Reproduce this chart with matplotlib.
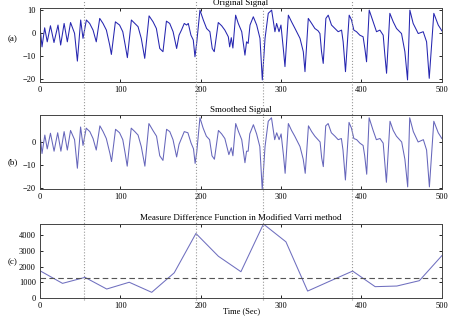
import matplotlib.pyplot as plt
import matplotlib.transforms as mtransforms
from matplotlib.lines import Line2D

plt.rcParams['font.family'] = ['Liberation Serif', 'DejaVu Serif']

# segnale originale
t_orig = [0, 2.5, 5.8, 9, 13, 17.4, 22.4, 25.7, 30, 34, 38, 43, 46.5, 50.6, 53.5, 57.7, 61.8, 66, 70,
          74.3, 78.4, 82.6, 86.7, 88.8, 93.8, 99, 103, 106, 108.7, 113.7, 118, 122, 126, 130.3, 135.7,
          140.7, 144.8, 149, 153, 157.3, 161.4, 165.6, 170, 173, 176, 179.5, 182.4, 184.5, 187.8, 190.7,
          192.8, 194.9, 199, 203.2, 207.3, 211.4, 214.3, 216.8, 221.8, 226, 230, 234.3, 236, 238, 240,
          243.4, 246.7, 251, 255, 257, 259, 261.3, 265.4, 269.6, 273.7, 276.6, 280, 284, 288.2, 292.3,
          294.4, 297.4, 299.8, 302.7, 304.8, 309, 313, 317.3, 323.5, 327.6, 329.7, 333.8, 338, 342, 346,
          348.3, 350.3, 352.4, 355.7, 358.6, 362.7, 366.9, 371, 375.2, 377.2, 380.1, 384.7, 387.6, 390.5,
          393.8, 397.9, 402, 404.2, 406.3, 409.6, 414.6, 418.7, 422.9, 427, 429.1, 431.2, 435.3, 439.5,
          443.6, 449.8, 454, 457.3, 460.2, 464.3, 470.6, 476.8, 481, 484.3, 490, 495.5, 500]
v_orig = [3, -6, 2.3, -3.8, 3.2, -4.1, 3.5, -5.2, 4.2, -3.8, 4.6, -0.1, -12.2, 5.7, -2.3, 5.7, 4.2, 1.3, -3.8,
          6.4, 4.2, 1.3, -5.2, -9.3, 4.9, 3.5, 0.6, -5.2, -10.7, 5.7, 4.2, 2.8, -2.3, -11, 7.5,
          4.9, 2, -6.7, -8.1, 5.2, 4.2, 0.6, -6.7, -0.9, 1.3, 4.2, 3.5, 4.2, -0.9, -3,
          -10.3, -4.5, 10, 5.7, 2, 0.6, -6.7, -8.1, 4.6, 3.2, 1.3, -1.6, -6, -2, -6.5,
          7.8, 4.2, 0.6, -9.6, -3.8, -4.5, 3.5, 7.1, 3.5, -2.3, -20.4, -2.3, 8.6, 10, 0.6,
          4.2, 0.6, 3.5, -6.7, -14.6, 7.8, 4.9, 2, -2.3, -8.1, -16.8, 6.4, 4.2, 2, 1,
          -0.2, -8.1, -13.2, 6.4, 7.8, 3.5, 2, 0.6, 1.3, -3.8, -16.8, 7.8, 5.7, 1.3,
          0.6, -0.9, -1.6, -6.7, -12.5, 10, 4.9, 0.6, 1.3, -0.9, -9.6, -17.5, 8.6, 4.9,
          2, -0.2, -8.1, -20.4, 10, 4.2, -0.2, 0.6, -3.8, -19.7, 8.6, 3.5, 1]

# segnale smussato
t_smooth = [0, 2.5, 6, 9, 13, 17.5, 22, 26, 30, 34, 38, 43, 46.5, 50.5, 53.5, 57.5, 62, 66, 70,
            74.5, 78.5, 82.5, 87, 89, 94, 99, 103, 106, 108.5, 113.5, 118, 122, 126, 130.5, 135.5,
            140.5, 145, 149, 153, 157.5, 161.5, 165.5, 170, 173, 176, 179.5, 184, 188, 191,
            193, 195, 199, 203, 207, 211, 214, 217, 222, 226, 230, 235, 238, 240,
            243.5, 247, 251, 255, 257, 259, 261, 265.5, 269.5, 273.5, 276.5, 280, 284, 288, 292,
            294.5, 297.5, 300, 303, 305, 309, 313, 317, 323.5, 327.5, 330, 334, 338, 342, 346,
            348.5, 350.5, 352.5, 355.5, 358.5, 362.5, 367, 371, 375, 377, 380, 384.5, 387.5, 390.5,
            394, 398, 402, 404, 406.5, 409.5, 414.5, 418.5, 423, 427, 429, 431, 435.5, 439.5,
            443.5, 450, 454, 457.5, 460, 464.5, 470.5, 477, 481, 484.5, 490, 495.5, 500]
v_smooth = [3.5, -5, 3, -3, 3.8, -4, 4, -4, 4.5, -3.5, 5, 1, -11.4, 6.5, -1.5, 6, 4.5, 1.5, -3.5,
            7, 4.5, 1.5, -5, -8.5, 5.5, 4, 1, -5, -10.5, 6, 4.5, 3, -2, -10.5, 8,
            5, 2.5, -6, -8, 5.5, 4.5, 1, -6.5, -1, 1.5, 4.5, 4, -0.5, -3,
            -9.3, -4.5, 10.5, 6, 2.5, 1, -6, -7.5, 5, 3.5, 1.5, -5.5, -2.5, -6,
            8, 4.5, 1, -9, -4, -4, 3.5, 7.5, 3.5, -2, -20.6, -2, 9, 10.5, 1,
            4, 1, 3.5, -6, -13.6, 8, 5, 2.5, -2, -7.5, -13.6, 7, 4.5, 2.5, 1,
            0, -7, -10.7, 7, 8, 4, 2.5, 1, 1.5, -3.5, -16.5, 8.5, 6, 1.5,
            1, -0.5, -1.5, -6, -14, 10.5, 5, 1, 1.5, -0.5, -9, -17.5, 9, 5,
            2.5, 0, -7.5, -19.5, 10.5, 4.5, 0, 1, -3.5, -19.5, 9, 4, 1.5]

# funzione differenza di misura (Varri modificato)
t_mdf = [0, 28, 56, 83, 111, 139, 167, 194, 222, 250, 278, 306, 333, 361, 389, 417, 444, 472, 500]
v_mdf = [1730, 930, 1310, 570, 1000, 360, 1600, 4100, 2650, 1670, 4700, 3570, 440, 1080, 1710,
         720, 760, 1100, 2690]
soglia = 1300

# confini dei segmenti (linee verticali)
confini = [55, 194, 277, 388]

xticks = [0, 100, 200, 300, 400, 500]

fig = plt.figure(figsize=(4.5, 3.16), dpi=100)

ax_a = fig.add_axes([0.0889, 0.7405, 0.893, 0.234])
ax_b = fig.add_axes([0.0889, 0.4020, 0.893, 0.234])
ax_c = fig.add_axes([0.0889, 0.0570, 0.893, 0.234])

ax_a.plot(t_orig, v_orig, color='#2626b0', linewidth=0.75)
ax_a.set_ylim(-21.3, 10.9)
ax_a.set_yticks([-20, -10, 0, 10])
ax_a.set_title('Original Signal', fontsize=6.5, pad=2.5)

ax_b.plot(t_smooth, v_smooth, color='#6666bb', linewidth=0.75)
ax_b.set_ylim(-20.4, 11.7)
ax_b.set_yticks([-20, -10, 0])
ax_b.set_title('Smoothed Signal', fontsize=6.5, pad=2.5)

ax_c.plot(t_mdf, v_mdf, color='#6f6fbf', linewidth=0.75)
ax_c.axhline(soglia, color='#555555', linewidth=0.8, linestyle=(0, (5, 3)))
ax_c.set_ylim(0, 4700)
ax_c.set_yticks([0, 1000, 2000, 3000, 4000])
ax_c.set_title('Measure Difference Function in Modified Varri method', fontsize=6.5, pad=3)

for ax in (ax_a, ax_b, ax_c):
    ax.set_xlim(0, 500)
    ax.set_xticks(xticks)
    ax.tick_params(direction='in', length=2.5, width=0.6, top=True, right=True,
                   labelsize=6, pad=3)
    for s in ax.spines.values():
        s.set_color('#444444')
        s.set_linewidth(0.7)

fig.text(0.018, 0.875, '(a)', fontsize=6.5, va='center')
fig.text(0.018, 0.487, '(b)', fontsize=6.5, va='center')
fig.text(0.018, 0.171, '(c)', fontsize=6.5, va='center')

# etichetta asse x in fondo, dentro la figura
fig.text(0.536, 0.003, 'Time (Sec)', fontsize=6, ha='center', va='bottom')

# linee tratteggiate verticali su tutta la figura
trans = mtransforms.blended_transform_factory(ax_c.transData, fig.transFigure)
for c in confini:
    fig.add_artist(Line2D([c, c], [0.05, 1.0], transform=trans, color='#999999',
                          linewidth=0.8, linestyle=':', clip_on=False))

plt.savefig('out.png', dpi=100)
